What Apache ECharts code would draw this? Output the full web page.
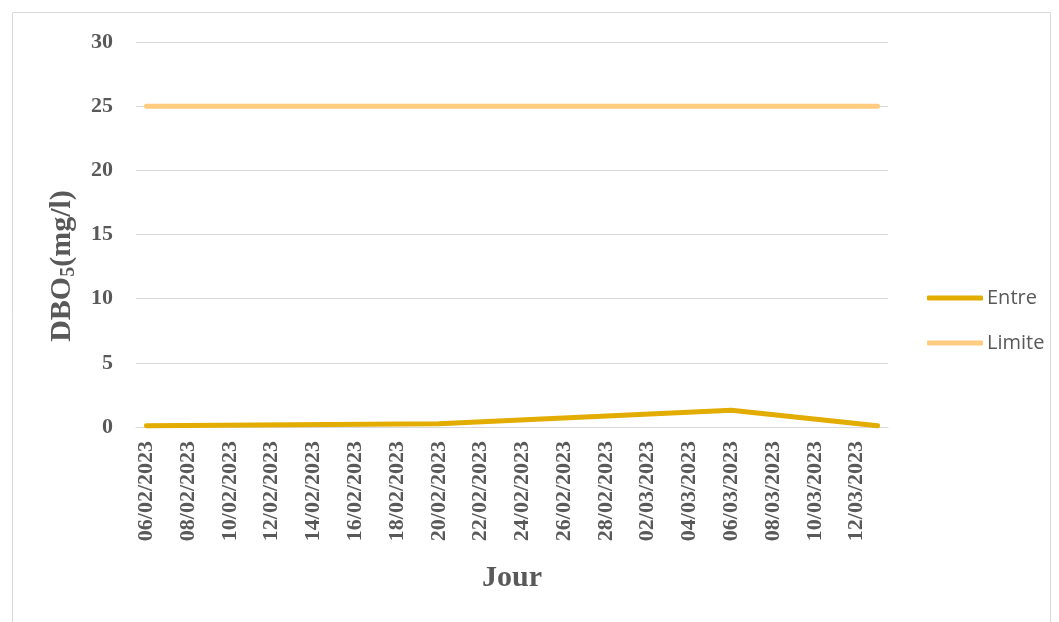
<!DOCTYPE html>
<html>
<head>
<meta charset="utf-8">
<script src="https://cdn.jsdelivr.net/npm/echarts@6/dist/echarts.min.js"></script>
<style>
  html, body { margin: 0; padding: 0; background: #fff; }
  #chart { width: 1059px; height: 622px; }
</style>
</head>
<body>
<div id="chart"></div>
<script>
// Daily sampling dates, 06/02/2023 to 13/03/2023
const days = [
  '06/02/2023','07/02/2023','08/02/2023','09/02/2023','10/02/2023','11/02/2023',
  '12/02/2023','13/02/2023','14/02/2023','15/02/2023','16/02/2023','17/02/2023',
  '18/02/2023','19/02/2023','20/02/2023','21/02/2023','22/02/2023','23/02/2023',
  '24/02/2023','25/02/2023','26/02/2023','27/02/2023','28/02/2023','01/03/2023',
  '02/03/2023','03/03/2023','04/03/2023','05/03/2023','06/03/2023','07/03/2023',
  '08/03/2023','09/03/2023','10/03/2023','11/03/2023','12/03/2023','13/03/2023'
];

// Measured BOD5 at the inlet (mg/l); days without a measurement are null
const entre = [
  0.1, null, null, null, null, null, null, null, null, null, null, null,
  null, null, 0.25, null, null, null, null, null, null, null, null, null,
  null, null, null, null, 1.3, null, null, null, null, null, null, 0.1
];

// Regulatory limit (mg/l)
const limite = days.map(() => 25);

const yTicks = { min: 0, max: 30, interval: 5 };

const gray = '#595959';
const serif = 'Liberation Serif';
const chart = echarts.init(document.getElementById('chart'));

chart.setOption({
  animation: false,
  graphic: [
    {
      type: 'rect',
      shape: { x: 12.5, y: 12.5, width: 1038, height: 620 },
      style: { fill: 'none', stroke: '#d9d9d9', lineWidth: 1 },
      silent: true
    },
    {
      // y-axis title with subscript
      type: 'text',
      x: 62,
      y: 266,
      rotation: Math.PI / 2,
      style: {
        text: '{a|DBO}{s|5}{a|(mg/l)}',
        align: 'center',
        verticalAlign: 'middle',
        rich: {
          a: { fontFamily: serif, fontWeight: 'bold', fontSize: 30, fill: gray },
          s: { fontFamily: serif, fontWeight: 'bold', fontSize: 20, fill: gray, padding: [14, 0, 0, 0] }
        }
      },
      silent: true
    },
    {
      // x-axis title
      type: 'text',
      x: 512,
      y: 578,
      style: {
        text: 'Jour',
        align: 'center',
        verticalAlign: 'middle',
        fontFamily: serif,
        fontWeight: 'bold',
        fontSize: 30,
        fill: gray
      },
      silent: true
    }
  ],
  grid: { left: 136, right: 171, top: 42, bottom: 195 },
  legend: {
    orient: 'vertical',
    left: 922,
    top: 283,
    itemWidth: 56,
    itemHeight: 5,
    itemGap: 25,
    icon: 'roundRect',
    textStyle: { fontFamily: 'Open Sans', fontSize: 20, lineHeight: 20, color: gray, padding: [0, 0, 0, -1] },
    data: ['Entre', 'Limite']
  },
  xAxis: {
    type: 'category',
    data: days,
    boundaryGap: true,
    axisLine: { lineStyle: { color: '#d9d9d9', width: 1 } },
    axisTick: { show: false },
    axisLabel: {
      interval: 1,
      rotate: 90,
      margin: 14,
      fontFamily: serif,
      fontWeight: 'bold',
      fontSize: 22,
      color: gray
    },
    splitLine: { show: false }
  },
  yAxis: {
    type: 'value',
    min: yTicks.min,
    max: yTicks.max,
    interval: yTicks.interval,
    axisLine: { show: false },
    axisTick: { show: false },
    axisLabel: {
      margin: 23,
      fontFamily: serif,
      fontWeight: 'bold',
      fontSize: 22,
      color: gray
    },
    splitLine: { lineStyle: { color: '#d9d9d9', width: 1 } }
  },
  series: [
    {
      name: 'Entre',
      type: 'line',
      data: entre,
      connectNulls: true,
      symbol: 'none',
      color: '#E2AC00',
      lineStyle: { width: 5, color: '#E2AC00', cap: 'round' },
      z: 3
    },
    {
      name: 'Limite',
      type: 'line',
      data: limite,
      symbol: 'none',
      color: '#FFCC80',
      lineStyle: { width: 5, color: '#FFCC80', cap: 'round' },
      z: 2
    }
  ]
});
</script>
</body>
</html>
